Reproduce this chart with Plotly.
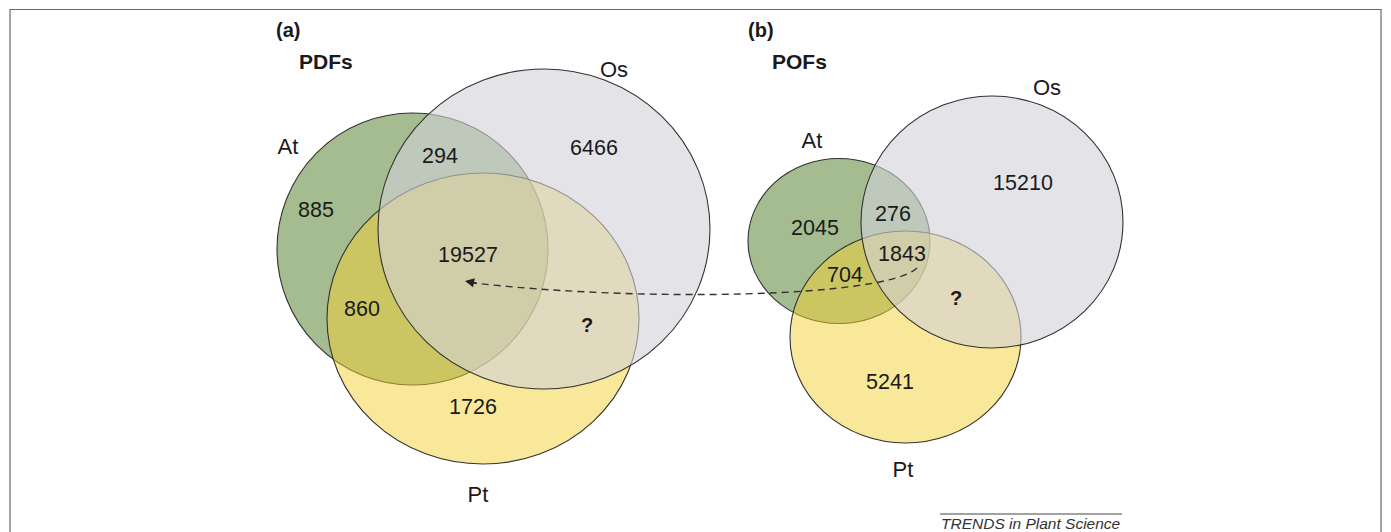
import plotly.graph_objects as go

# ---------------- data ----------------
species = ["At", "Os", "Pt"]
panel_tags = ["(a)", "(b)"]
panel_titles = ["PDFs", "POFs"]
# region order: At only, At&Os, Os only, At&Os&Pt, At&Pt, Os&Pt, Pt only
region_keys = ["A", "AO", "O", "AOP", "AP", "OP", "P"]
pdf_counts = ["885", "294", "6466", "19527", "860", "?", "1726"]
pof_counts = ["2045", "276", "15210", "1843", "704", "?", "5241"]
source_text = "TRENDS in Plant Science"

# ---------------- layout geometry (pixel space) ----------------
W, H = 1391, 532
geom = {
    "a": {
        "At": (412.5, 249, 135.5, 136),
        "Os": (544, 229, 166, 160),
        "Pt": (483, 318.5, 156, 145.5),
        "lab": {"At": (288, 148), "Os": (614, 71), "Pt": (478, 496)},
        "tag": (288, 30), "title": (326, 61),
        "reg": {"A": (316, 212), "AO": (440, 158), "O": (594, 150), "AOP": (468, 257),
                "AP": (362, 311), "OP": (587, 327), "P": (473, 409)},
    },
    "b": {
        "At": (839, 241, 91, 82.5),
        "Os": (992, 222, 131, 126),
        "Pt": (905.5, 337, 115.5, 106),
        "lab": {"At": (812, 142), "Os": (1047, 89), "Pt": (903, 471)},
        "tag": (761, 30), "title": (799, 61),
        "reg": {"A": (815, 230), "AO": (893, 216), "O": (1023, 185), "AOP": (902, 256),
                "AP": (845, 277), "OP": (956, 300), "P": (890, 384)},
    },
}
fills = {"At": "rgb(164,188,143)", "Pt": "rgba(243,207,53,0.5)", "Os": "rgba(210,210,217,0.6)"}
draw_order = ["At", "Pt", "Os"]
FONT = "Liberation Sans, Arial, sans-serif"
TXT = "#1a1a1a"

fig = go.Figure()
shapes = []
# outer frame
shapes.append(dict(type="rect", xref="x", yref="y", x0=10, y0=9.5, x1=1381, y1=545,
                   line=dict(color="#6a6a6a", width=1.2), fillcolor="rgba(0,0,0,0)", layer="below"))
for key in ["a", "b"]:
    g = geom[key]
    for sp in draw_order:
        cx, cy, rx, ry = g[sp]
        shapes.append(dict(type="circle", xref="x", yref="y", x0=cx - rx, x1=cx + rx,
                           y0=cy - ry, y1=cy + ry, fillcolor=fills[sp],
                           line=dict(color="#333333", width=1.1), layer="below"))

# dashed arrow from (b) triple region to (a) triple region
shapes.append(dict(type="path", xref="x", yref="y",
                   path="M 917,268 C 885,298 640,302 474,283",
                   line=dict(color="#333333", width=1.4, dash="7px,5px"), layer="below"))
# source line
shapes.append(dict(type="line", xref="x", yref="y", x0=940, x1=1122, y0=514, y1=514,
                   line=dict(color="#444444", width=1), layer="below"))

annotations = []
for idx, key in enumerate(["a", "b"]):
    g = geom[key]
    counts = pdf_counts if key == "a" else pof_counts
    rx_ = [g["reg"][k][0] for k in region_keys]
    ry_ = [g["reg"][k][1] for k in region_keys]
    plain = [c if c != "?" else "" for c in counts]
    fig.add_trace(go.Scatter(x=rx_, y=ry_, mode="text", text=plain,
                             textfont=dict(family=FONT, size=21.5, color=TXT),
                             hoverinfo="skip", showlegend=False))
    qx = [g["reg"][k][0] for k, c in zip(region_keys, counts) if c == "?"]
    qy = [g["reg"][k][1] for k, c in zip(region_keys, counts) if c == "?"]
    fig.add_trace(go.Scatter(x=qx, y=qy, mode="text", text=["<b>?</b>"] * len(qx),
                             textfont=dict(family=FONT, size=20, color=TXT),
                             hoverinfo="skip", showlegend=False))
    fig.add_trace(go.Scatter(x=[g["lab"][s][0] for s in species],
                             y=[g["lab"][s][1] for s in species],
                             mode="text", text=species,
                             textfont=dict(family=FONT, size=22, color=TXT),
                             hoverinfo="skip", showlegend=False))
    annotations.append(dict(x=g["tag"][0], y=g["tag"][1], xref="x", yref="y",
                            text="<b>" + panel_tags[idx] + "</b>", showarrow=False,
                            font=dict(family=FONT, size=20, color=TXT)))
    annotations.append(dict(x=g["title"][0], y=g["title"][1], xref="x", yref="y",
                            text="<b>" + panel_titles[idx] + "</b>", showarrow=False,
                            font=dict(family=FONT, size=21, color=TXT)))

# arrow head
annotations.append(dict(x=465, y=281, ax=478, ay=283.5, xref="x", yref="y", axref="x", ayref="y",
                        text="", showarrow=True, arrowhead=2, arrowsize=1.3, arrowwidth=1.4,
                        arrowcolor="#222222"))
annotations.append(dict(x=1031, y=523, xref="x", yref="y", text="<i>" + source_text + "</i>",
                        showarrow=False, font=dict(family=FONT, size=15.5, color="#333333")))

fig.update_layout(
    width=W, height=H, margin=dict(l=0, r=0, t=0, b=0),
    paper_bgcolor="white", plot_bgcolor="white",
    xaxis=dict(range=[0, W], visible=False, fixedrange=True),
    yaxis=dict(range=[H, 0], visible=False, fixedrange=True),
    shapes=shapes, annotations=annotations, showlegend=False,
)
fig.write_html("out.html", config={"displayModeBar": False},
               post_script="document.body.style.margin='0';document.body.style.overflow='hidden';")
